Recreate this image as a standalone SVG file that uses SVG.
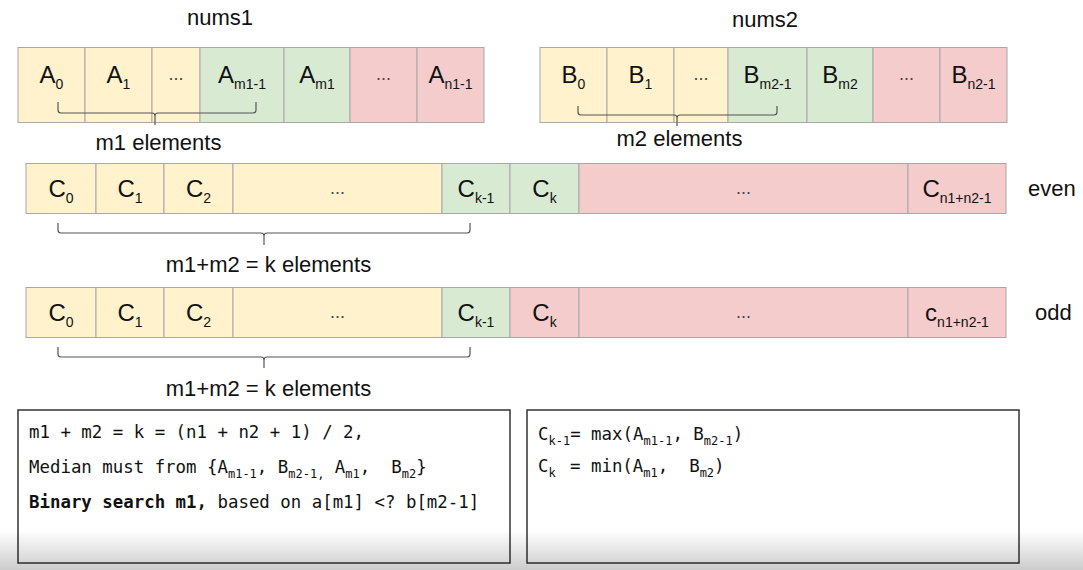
<svg xmlns="http://www.w3.org/2000/svg" width="1083" height="570" viewBox="0 0 1083 570">
<defs>
<style>
.y{fill:#fff2cc;stroke:#a8a8a8;stroke-width:1}
.g{fill:#d9ead3;stroke:#a8a8a8;stroke-width:1}
.p{fill:#f4cccc;stroke:#a8a8a8;stroke-width:1}
.t{font-family:"Liberation Sans",Arial,sans-serif;font-size:22px;fill:#111}
.c{font-family:"Liberation Sans",Arial,sans-serif;font-size:22px;fill:#111;text-anchor:middle}
.e{font-family:"Liberation Sans",Arial,sans-serif;font-size:24px;fill:#111;text-anchor:middle}
.s{font-size:14px}
.d{font-family:"Liberation Sans",Arial,sans-serif;font-size:18px;fill:#444;text-anchor:middle}
.br{fill:none;stroke:#555;stroke-width:1.2}
.box{fill:#fff;stroke:#333;stroke-width:1.5}
.m{font-family:"DejaVu Sans Mono","Liberation Mono",monospace;font-size:17.4px;fill:#111;white-space:pre}
.ms{font-size:12px}
</style>
<linearGradient id="shade" x1="0" y1="0" x2="0" y2="1">
<stop offset="0" stop-color="#000" stop-opacity="0"/>
<stop offset="1" stop-color="#000" stop-opacity="0.2"/>
</linearGradient>
</defs>
<rect width="1083" height="570" fill="#fff"/>

<g id="nums1">
<text class="c" x="220" y="25">nums1</text>
<rect class="y" x="18" y="47.5" width="67" height="75"/>
<rect class="y" x="85" y="47.5" width="67" height="75"/>
<rect class="y" x="152" y="47.5" width="48" height="75"/>
<rect class="g" x="200" y="47.5" width="84" height="75"/>
<rect class="g" x="284" y="47.5" width="66" height="75"/>
<rect class="p" x="350" y="47.5" width="67" height="75"/>
<rect class="p" x="417" y="47.5" width="67" height="75"/>
<text class="e" x="51.5" y="83">A<tspan class="s" dy="6">0</tspan></text>
<text class="e" x="118.5" y="83">A<tspan class="s" dy="6">1</tspan></text>
<text class="d" x="176" y="80">...</text>
<text class="e" x="242" y="83">A<tspan class="s" dy="6">m1-1</tspan></text>
<text class="e" x="317" y="83">A<tspan class="s" dy="6">m1</tspan></text>
<text class="d" x="383.5" y="80">...</text>
<text class="e" x="450.5" y="83">A<tspan class="s" dy="6">n1-1</tspan></text>
</g>

<g id="nums2">
<text class="c" x="765" y="27">nums2</text>
<rect class="y" x="540" y="47.5" width="67" height="75"/>
<rect class="y" x="607" y="47.5" width="67" height="75"/>
<rect class="y" x="674" y="47.5" width="54" height="75"/>
<rect class="g" x="728" y="47.5" width="79" height="75"/>
<rect class="g" x="807" y="47.5" width="66" height="75"/>
<rect class="p" x="873" y="47.5" width="67" height="75"/>
<rect class="p" x="940" y="47.5" width="67" height="75"/>
<text class="e" x="573.5" y="83">B<tspan class="s" dy="6">0</tspan></text>
<text class="e" x="640.5" y="83">B<tspan class="s" dy="6">1</tspan></text>
<text class="d" x="701" y="80">...</text>
<text class="e" x="767.5" y="83">B<tspan class="s" dy="6">m2-1</tspan></text>
<text class="e" x="840" y="83">B<tspan class="s" dy="6">m2</tspan></text>
<text class="d" x="906.5" y="80">...</text>
<text class="e" x="973.5" y="83">B<tspan class="s" dy="6">n2-1</tspan></text>
</g>

<g id="even">
<rect class="y" x="26" y="163.5" width="70" height="50"/>
<rect class="y" x="96" y="163.5" width="68" height="50"/>
<rect class="y" x="164" y="163.5" width="69" height="50"/>
<rect class="y" x="233" y="163.5" width="209" height="50"/>
<rect class="g" x="442" y="163.5" width="68" height="50"/>
<rect class="g" x="510" y="163.5" width="69" height="50"/>
<rect class="p" x="579" y="163.5" width="329" height="50"/>
<rect class="p" x="908" y="163.5" width="98" height="50"/>
<text class="e" x="61" y="197">C<tspan class="s" dy="6">0</tspan></text>
<text class="e" x="130" y="197">C<tspan class="s" dy="6">1</tspan></text>
<text class="e" x="198.5" y="197">C<tspan class="s" dy="6">2</tspan></text>
<text class="d" x="337.5" y="194">...</text>
<text class="e" x="476" y="197">C<tspan class="s" dy="6">k-1</tspan></text>
<text class="e" x="544.5" y="197">C<tspan class="s" dy="6">k</tspan></text>
<text class="d" x="743.5" y="194">...</text>
<text class="e" x="957" y="197">C<tspan class="s" dy="6">n1+n2-1</tspan></text>
<text class="t" x="1028" y="196">even</text>
</g>

<g id="odd">
<rect class="y" x="26" y="287.5" width="70" height="50"/>
<rect class="y" x="96" y="287.5" width="68" height="50"/>
<rect class="y" x="164" y="287.5" width="69" height="50"/>
<rect class="y" x="233" y="287.5" width="209" height="50"/>
<rect class="g" x="442" y="287.5" width="68" height="50"/>
<rect class="p" x="510" y="287.5" width="69" height="50"/>
<rect class="p" x="579" y="287.5" width="329" height="50"/>
<rect class="p" x="908" y="287.5" width="98" height="50"/>
<text class="e" x="61" y="321">C<tspan class="s" dy="6">0</tspan></text>
<text class="e" x="130" y="321">C<tspan class="s" dy="6">1</tspan></text>
<text class="e" x="198.5" y="321">C<tspan class="s" dy="6">2</tspan></text>
<text class="d" x="337.5" y="318">...</text>
<text class="e" x="476" y="321">C<tspan class="s" dy="6">k-1</tspan></text>
<text class="e" x="544.5" y="321">C<tspan class="s" dy="6">k</tspan></text>
<text class="d" x="743.5" y="318">...</text>
<text class="e" x="957" y="321">c<tspan class="s" dy="6">n1+n2-1</tspan></text>
<text class="t" x="1035" y="320">odd</text>
</g>

<g id="connectors">
<path class="br" d="M58,102 V110 Q58,113 61,113 H152 Q155,113 155,116 V125 M155,116 Q155,113 158,113 H253 Q256,113 256,110 V102"/>
<path class="br" d="M578,106 V112 Q578,115 581,115 H674 Q677,115 677,118 V126 M677,118 Q677,115 680,115 H774 Q777,115 777,112 V106"/>
<path class="br" d="M58,223 V230 Q58,233 61,233 H261 Q264,233 264,236 V245 M264,236 Q264,233 267,233 H467 Q470,233 470,230 V223"/>
<path class="br" d="M58,347 V354 Q58,357 61,357 H261 Q264,357 264,360 V368 M264,360 Q264,357 267,357 H467 Q470,357 470,354 V347"/>
</g>

<g id="labels">
<text class="c" x="158.5" y="150">m1 elements</text>
<text class="c" x="679.5" y="146">m2 elements</text>
<text class="c" x="268.5" y="272">m1+m2 = k elements</text>
<text class="c" x="268.5" y="396">m1+m2 = k elements</text>
</g>

<g id="box-left">
<rect class="box" x="18" y="410" width="492" height="153"/>
<text class="m" x="29" y="438">m1 + m2 = k = (n1 + n2 + 1) / 2,</text>
<text class="m" x="29" y="473">Median must from {A<tspan class="ms" dy="5">m1-1</tspan><tspan dy="-5">, B</tspan><tspan class="ms" dy="5">m2-1,</tspan><tspan dy="-5"> A</tspan><tspan class="ms" dy="5">m1</tspan><tspan dy="-5">,  B</tspan><tspan class="ms" dy="5">m2</tspan><tspan dy="-5">}</tspan></text>
<text class="m" x="29" y="508"><tspan font-weight="bold">Binary search m1,</tspan> based on a[m1] &lt;? b[m2-1]</text>
</g>

<g id="box-right">
<rect class="box" x="527" y="410" width="492" height="153"/>
<text class="m" x="538" y="440">C<tspan class="ms" dy="5">k-1</tspan><tspan dy="-5">= max(A</tspan><tspan class="ms" dy="5">m1-1</tspan><tspan dy="-5">, B</tspan><tspan class="ms" dy="5">m2-1</tspan><tspan dy="-5">)</tspan></text>
<text class="m" x="538" y="472">C<tspan class="ms" dy="5">k</tspan><tspan x="570" dy="-5">= min(A</tspan><tspan class="ms" dy="5">m1</tspan><tspan dy="-5">,  B</tspan><tspan class="ms" dy="5">m2</tspan><tspan dy="-5">)</tspan></text>
</g>

<rect x="0" y="530" width="1083" height="40" fill="url(#shade)"/>
</svg>
